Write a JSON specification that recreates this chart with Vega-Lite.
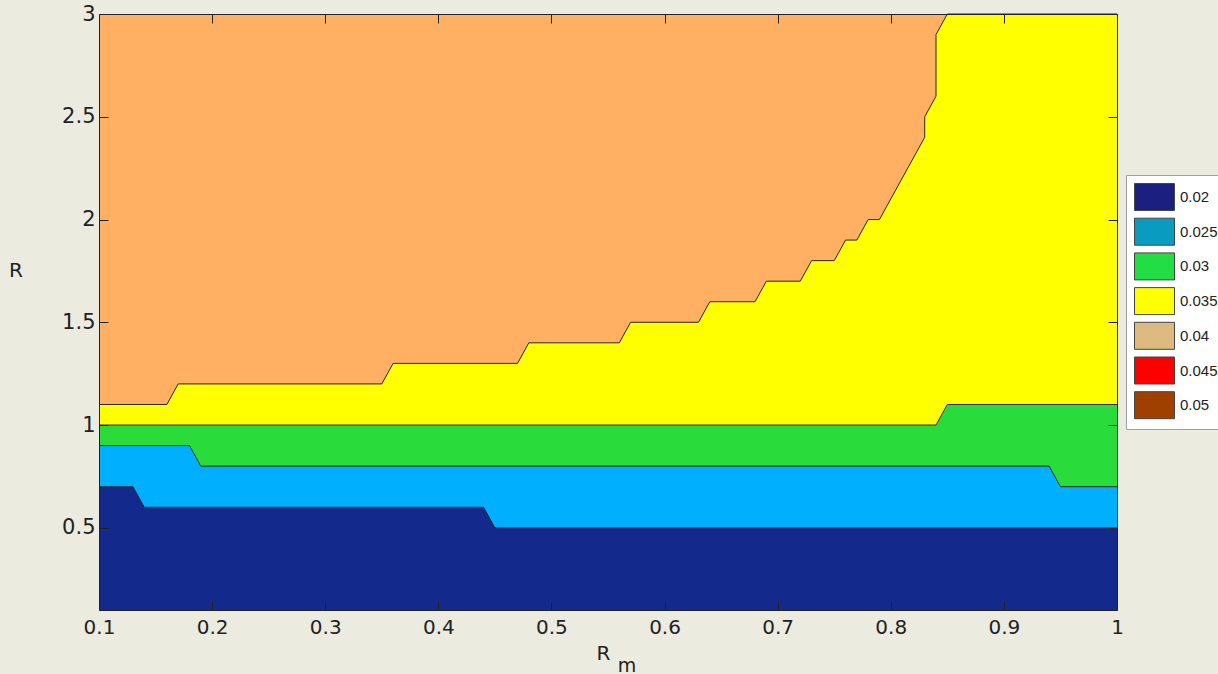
{
  "$schema": "https://vega.github.io/schema/vega-lite/v6.json",
  "width": 1018,
  "height": 596,
  "autosize": {"type": "none"},
  "padding": {"left": 99, "top": 14, "right": 101, "bottom": 64},
  "background": "#ECEBE0",
  "config": {"view": {"stroke": null}, "area": {"opacity": 1, "fillOpacity": 1}},
  "datasets": {
    "levels": [
      {"level": "0.02"}, {"level": "0.025"}, {"level": "0.03"}, {"level": "0.035"},
      {"level": "0.04"}, {"level": "0.045"}, {"level": "0.05"}
    ],
    "orange": [
      {"x": 0.1, "y": 3}, {"x": 1, "y": 3}
    ],
    "yellow": [
      {"x": 0.1, "y": 1.1}, {"x": 0.16, "y": 1.1}, {"x": 0.17, "y": 1.2},
      {"x": 0.35, "y": 1.2}, {"x": 0.36, "y": 1.3}, {"x": 0.47, "y": 1.3},
      {"x": 0.48, "y": 1.4}, {"x": 0.56, "y": 1.4}, {"x": 0.57, "y": 1.5},
      {"x": 0.63, "y": 1.5}, {"x": 0.64, "y": 1.6}, {"x": 0.68, "y": 1.6},
      {"x": 0.69, "y": 1.7}, {"x": 0.72, "y": 1.7}, {"x": 0.73, "y": 1.8},
      {"x": 0.75, "y": 1.8}, {"x": 0.76, "y": 1.9}, {"x": 0.77, "y": 1.9},
      {"x": 0.78, "y": 2.0}, {"x": 0.79, "y": 2.0}, {"x": 0.83, "y": 2.4},
      {"x": 0.83, "y": 2.5}, {"x": 0.84, "y": 2.6}, {"x": 0.84, "y": 2.9},
      {"x": 0.85, "y": 3.0}, {"x": 1, "y": 3.0}
    ],
    "green": [
      {"x": 0.1, "y": 1.0}, {"x": 0.84, "y": 1.0}, {"x": 0.85, "y": 1.1}, {"x": 1, "y": 1.1}
    ],
    "cyan": [
      {"x": 0.1, "y": 0.9}, {"x": 0.18, "y": 0.9}, {"x": 0.19, "y": 0.8},
      {"x": 0.94, "y": 0.8}, {"x": 0.95, "y": 0.7}, {"x": 1, "y": 0.7}
    ],
    "navy": [
      {"x": 0.1, "y": 0.7}, {"x": 0.13, "y": 0.7}, {"x": 0.14, "y": 0.6},
      {"x": 0.44, "y": 0.6}, {"x": 0.45, "y": 0.5}, {"x": 1, "y": 0.5}
    ]
  },
  "resolve": {"axis": {"x": "independent", "y": "independent"}},
  "layer": [
    {
      "data": {"name": "levels"},
      "mark": {"type": "point", "shape": "square", "filled": true, "size": 20},
      "encoding": {
        "x": {"datum": 0.5, "type": "quantitative", "axis": null, "scale": {"domain": [0.1, 1], "nice": false, "zero": false}},
        "y": {"datum": 0.5, "type": "quantitative", "axis": null, "scale": {"domain": [0.1, 3], "nice": false, "zero": false}},
        "fill": {
          "field": "level", "type": "nominal",
          "scale": {
            "domain": ["0.02", "0.025", "0.03", "0.035", "0.04", "0.045", "0.05"],
            "range": ["#1B1F80", "#0A9CC0", "#22DD44", "#FFFF00", "#DDBB80", "#FF0000", "#A04000"]
          },
          "legend": {
            "orient": "none", "legendX": 1027, "legendY": 161,
            "title": null, "padding": 8,
            "fillColor": "#FFFFFF", "strokeColor": "#A0A0A0",
            "symbolType": "M-1,-1H1.963V1H-1Z", "symbolSize": 729,
            "symbolStrokeColor": "#444444", "symbolStrokeWidth": 1, "symbolOpacity": 1,
            "labelFont": "Liberation Sans", "labelFontSize": 15, "labelColor": "#222222",
            "labelOffset": 18, "rowPadding": 2.7, "labelLimit": 200,
            "encode": {
              "symbols": {"update": {
                "shape": {"value": "M-1,-1H1.963V1H-1Z"},
                "size": {"value": 729},
                "stroke": {"value": "#444444"},
                "strokeWidth": {"value": 1},
                "opacity": {"value": 1}
              }}
            }
          }
        }
      }
    },
    {
      "data": {"name": "orange"},
      "mark": {"type": "area", "fill": "#FFB062", "orient": "vertical", "opacity": 1, "fillOpacity": 1},
      "encoding": {
        "x": {"field": "x", "type": "quantitative",
          "axis": {"orient": "bottom", "values": [0.1, 0.2, 0.3, 0.4, 0.5, 0.6, 0.7, 0.8, 0.9, 1], "format": "~g",
            "labelFont": "DejaVu Sans", "labelFontSize": 20, "labelColor": "#222222", "labelFlush": false, "labelOverlap": false,
            "labelPadding": 16, "tickSize": -9, "tickColor": "#222222", "domainColor": "#222222", "grid": false, "zindex": 1,
            "title": "R", "titleFont": "DejaVu Sans", "titleFontSize": 20, "titleFontWeight": "normal",
            "titleColor": "#222222", "titleAlign": "left", "titleX": 497, "titleY": 49, "titleBaseline": "alphabetic"}},
        "y": {"field": "y", "type": "quantitative",
          "axis": {"orient": "left", "values": [0.5, 1, 1.5, 2, 2.5, 3], "format": "~g",
            "labelFont": "DejaVu Sans", "labelFontSize": 21, "labelColor": "#222222", "labelFlush": false, "labelOverlap": false,
            "labelPadding": 13, "tickSize": -9, "tickColor": "#222222", "domainColor": "#222222", "grid": false, "zindex": 1,
            "title": "R", "titleFont": "DejaVu Sans", "titleFontSize": 20, "titleFontWeight": "normal", "titleColor": "#222222",
            "titleAngle": 0, "titleAlign": "center", "titleBaseline": "middle", "titleX": -83.5, "titleY": 256}},
        "y2": {"datum": 0.1}
      }
    },
    {
      "data": {"name": "yellow"},
      "mark": {"type": "area", "fill": "#FFFF00", "orient": "vertical", "opacity": 1, "fillOpacity": 1, "line": {"color": "#2A2A2A", "strokeWidth": 1}},
      "encoding": {
        "x": {"field": "x", "type": "quantitative",
          "axis": {"orient": "top", "values": [0.1, 0.2, 0.3, 0.4, 0.5, 0.6, 0.7, 0.8, 0.9, 1], "labels": false,
            "tickSize": -9, "tickColor": "#222222", "domainColor": "#222222", "grid": false, "zindex": 1, "title": null}},
        "y": {"field": "y", "type": "quantitative",
          "axis": {"orient": "right", "values": [0.5, 1, 1.5, 2, 2.5, 3], "labels": false,
            "tickSize": -9, "tickColor": "#222222", "domainColor": "#222222", "grid": false, "zindex": 1,
            "title": "m", "titleFont": "DejaVu Sans", "titleFontSize": 19, "titleFontWeight": "normal", "titleColor": "#222222",
            "titleAngle": 0, "titleAlign": "center", "titleBaseline": "alphabetic", "titleX": -490.5, "titleY": 657}},
        "y2": {"datum": 0.1}
      }
    },
    {
      "data": {"name": "green"},
      "mark": {"type": "area", "fill": "#2ADB3C", "orient": "vertical", "opacity": 1, "fillOpacity": 1, "line": {"color": "#2A2A2A", "strokeWidth": 1}},
      "encoding": {
        "x": {"field": "x", "type": "quantitative", "axis": null},
        "y": {"field": "y", "type": "quantitative", "axis": null},
        "y2": {"datum": 0.1}
      }
    },
    {
      "data": {"name": "cyan"},
      "mark": {"type": "area", "fill": "#00B0FF", "orient": "vertical", "opacity": 1, "fillOpacity": 1, "line": {"color": "#2A2A2A", "strokeWidth": 1}},
      "encoding": {
        "x": {"field": "x", "type": "quantitative", "axis": null},
        "y": {"field": "y", "type": "quantitative", "axis": null},
        "y2": {"datum": 0.1}
      }
    },
    {
      "data": {"name": "navy"},
      "mark": {"type": "area", "fill": "#132A8C", "orient": "vertical", "opacity": 1, "fillOpacity": 1, "line": {"color": "#2A2A2A", "strokeWidth": 1}},
      "encoding": {
        "x": {"field": "x", "type": "quantitative", "axis": null},
        "y": {"field": "y", "type": "quantitative", "axis": null},
        "y2": {"datum": 0.1}
      }
    }
  ]
}
